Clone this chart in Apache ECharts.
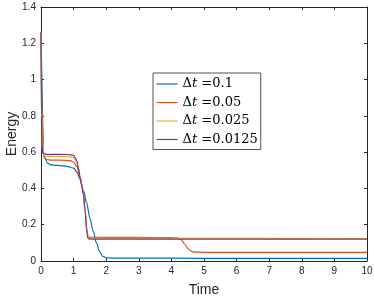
<!DOCTYPE html>
<html>
<head>
<meta charset="utf-8">
<script src="https://cdn.jsdelivr.net/npm/echarts@6/dist/echarts.min.js"></script>
<style>html,body{margin:0;padding:0;background:#fff}#c{width:374px;height:299px}</style>
</head>
<body>
<div id="c"></div>
<script>
const seriesNames = ['Δt =0.1', 'Δt =0.05', 'Δt =0.025', 'Δt =0.0125'];
const colors = ['#0072BD', '#D95319', '#EDB120', '#7E2F8E'];

const t1 = [0, 0.1, 0.2, 0.3, 0.5, 0.8, 1.0, 1.1, 1.2, 1.3, 1.4, 1.5, 1.6, 1.7, 1.8, 1.9, 2.0, 2.2, 3, 5, 10];
const e1 = [1.26, 0.575, 0.54, 0.53, 0.527, 0.522, 0.512, 0.49, 0.45, 0.39, 0.32, 0.235, 0.165, 0.1, 0.05, 0.025, 0.018, 0.016, 0.016, 0.015, 0.015];

const t2 = [0, 0.05, 0.1, 0.15, 0.2, 0.3, 0.6, 0.9, 1.0, 1.1, 1.2, 1.25, 1.3, 1.35, 1.4, 1.45, 1.5, 2, 3, 4, 4.2, 4.3, 4.4, 4.5, 4.6, 4.7, 5, 10];
const e2 = [1.26, 0.6, 0.57, 0.562, 0.558, 0.556, 0.556, 0.553, 0.545, 0.52, 0.46, 0.42, 0.37, 0.29, 0.18, 0.135, 0.13, 0.13, 0.13, 0.129, 0.127, 0.118, 0.095, 0.07, 0.054, 0.049, 0.048, 0.048];

const t3 = [0, 0.025, 0.05, 0.1, 0.2, 0.4, 0.8, 1.0, 1.05, 1.1, 1.15, 1.2, 1.25, 1.3, 1.35, 1.4, 1.43, 1.46, 1.5, 2, 4, 10];
const e3 = [1.26, 0.65, 0.6, 0.58, 0.577, 0.576, 0.575, 0.57, 0.56, 0.545, 0.51, 0.465, 0.42, 0.37, 0.29, 0.18, 0.14, 0.128, 0.126, 0.125, 0.125, 0.124];

const t4 = [0, 0.0125, 0.025, 0.05, 0.1, 0.2, 0.4, 0.8, 1.0, 1.05, 1.1, 1.15, 1.2, 1.25, 1.3, 1.35, 1.4, 1.43, 1.46, 1.5, 2, 4, 10];
const e4 = [1.26, 0.8, 0.65, 0.6, 0.59, 0.588, 0.588, 0.587, 0.582, 0.57, 0.55, 0.51, 0.46, 0.415, 0.365, 0.28, 0.17, 0.13, 0.122, 0.121, 0.121, 0.121, 0.121];

const times = [t1, t2, t3, t4];
const energies = [e1, e2, e3, e4];

const axisColor = '#262626';
const labelFont = 'Liberation Sans, Arial, sans-serif';
const legendFont = 'DejaVu Serif, serif';

const chart = echarts.init(document.getElementById('c'), null, {renderer: 'canvas'});
const baseX = {
  type: 'value', min: 0, max: 10, interval: 1,
  axisLine: {show: true, onZero: false, lineStyle: {color: axisColor, width: 1}},
  axisTick: {show: true, inside: true, length: 3, lineStyle: {color: axisColor}},
  splitLine: {show: false}
};
const baseY = {
  type: 'value', min: 0, max: 1.4, interval: 0.2,
  axisLine: {show: true, onZero: false, lineStyle: {color: axisColor, width: 1}},
  axisTick: {show: true, inside: true, length: 3, lineStyle: {color: axisColor}},
  splitLine: {show: false}
};
chart.setOption({
  animation: false,
  backgroundColor: '#fff',
  grid: {left: 41, right: 7, top: 7, bottom: 38, containLabel: false, outerBoundsMode: 'none'},
  xAxis: [
    Object.assign({}, baseX, {
      position: 'bottom',
      name: 'Time', nameLocation: 'middle', nameGap: 22, nameMoveOverlap: false,
      nameTextStyle: {color: axisColor, fontSize: 14, fontFamily: labelFont},
      axisLabel: {color: axisColor, fontSize: 10, fontFamily: labelFont, margin: 5}
    }),
    Object.assign({}, baseX, {position: 'top', axisLabel: {show: false}})
  ],
  yAxis: [
    Object.assign({}, baseY, {
      position: 'left',
      name: 'Energy', nameLocation: 'middle', nameGap: 22, nameMoveOverlap: false,
      nameTextStyle: {color: axisColor, fontSize: 14, fontFamily: labelFont},
      axisLabel: {color: axisColor, fontSize: 10, fontFamily: labelFont, margin: 5}
    }),
    Object.assign({}, baseY, {position: 'right', axisLabel: {show: false}})
  ],
  legend: {
    orient: 'vertical', left: 153, top: 73,
    padding: [4, 3, 3, 3],
    itemGap: 4.5, itemWidth: 21, itemHeight: 14,
    backgroundColor: '#fff',
    borderColor: axisColor, borderWidth: 0.8, borderRadius: 0,
    data: seriesNames,
    itemStyle: {opacity: 0},
    lineStyle: {width: 1.2, opacity: 1},
    formatter: function (name) { return name.replace('t', '{i|t}'); },
    textStyle: {
      color: '#000', fontSize: 13, fontFamily: legendFont, lineHeight: 14,
      rich: {i: {fontStyle: 'italic', fontSize: 13, fontFamily: legendFont, color: '#000'}}
    }
  },
  series: seriesNames.map(function (name, k) {
    return {
      name: name, type: 'line', xAxisIndex: 0, yAxisIndex: 0,
      showSymbol: false, symbol: 'none',
      smooth: 0.3, smoothMonotone: 'x',
      lineStyle: {color: colors[k], width: 1.2},
      itemStyle: {color: colors[k]},
      data: times[k].map(function (t, i) { return [t, energies[k][i]]; })
    };
  })
});
</script>
</body>
</html>
